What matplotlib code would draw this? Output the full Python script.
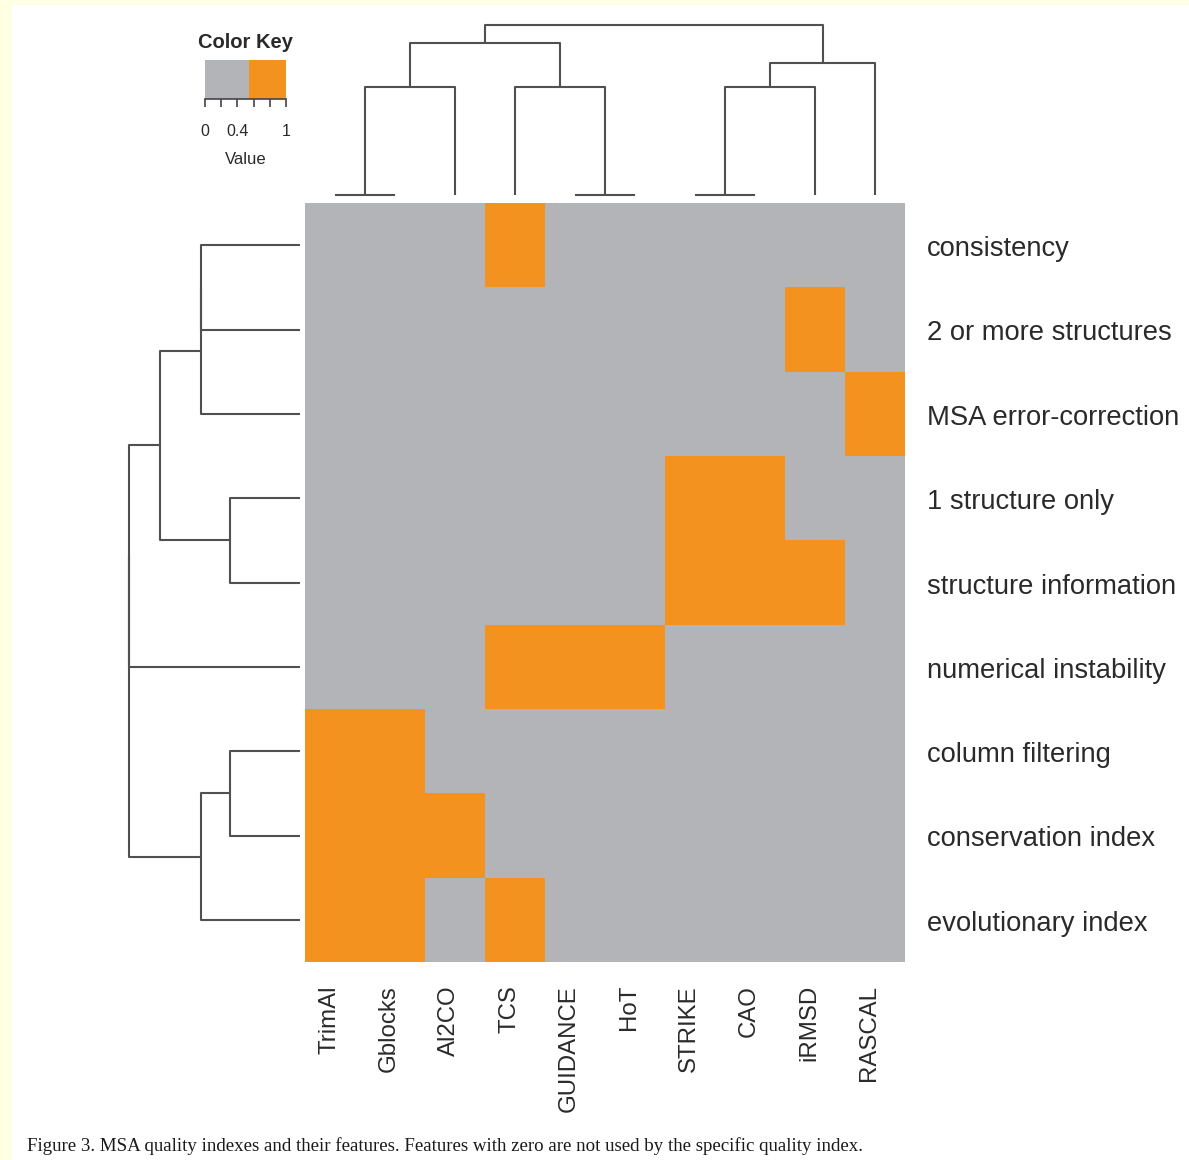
import numpy as np
import matplotlib
matplotlib.use("Agg")
import matplotlib.pyplot as plt
from matplotlib.colors import ListedColormap, BoundaryNorm
from matplotlib.patches import Rectangle
import matplotlib.transforms as mtransforms

# ---------------- data ----------------
quality_indexes = ["TrimAl", "Gblocks", "Al2CO", "TCS", "GUIDANCE", "HoT",
                   "STRIKE", "CAO", "iRMSD", "RASCAL"]
features = ["consistency", "2 or more structures", "MSA error-correction",
            "1 structure only", "structure information", "numerical instability",
            "column filtering", "conservation index", "evolutionary index"]

consistency           = [0, 0, 0, 1, 0, 0, 0, 0, 0, 0]
two_or_more_structures = [0, 0, 0, 0, 0, 0, 0, 0, 1, 0]
msa_error_correction  = [0, 0, 0, 0, 0, 0, 0, 0, 0, 1]
one_structure_only    = [0, 0, 0, 0, 0, 0, 1, 1, 0, 0]
structure_information = [0, 0, 0, 0, 0, 0, 1, 1, 1, 0]
numerical_instability = [0, 0, 0, 1, 1, 1, 0, 0, 0, 0]
column_filtering      = [1, 1, 0, 0, 0, 0, 0, 0, 0, 0]
conservation_index    = [1, 1, 1, 0, 0, 0, 0, 0, 0, 0]
evolutionary_index    = [1, 1, 0, 1, 0, 0, 0, 0, 0, 0]

key_ticks = [0, 0.2, 0.4, 0.6, 0.8, 1.0]
key_tick_labels = ["0", "", "0.4", "", "", "1"]
key_split = 0.54

caption = ("Figure 3. MSA quality indexes and their features. Features with zero "
           "are not used by the specific quality index.")

GRAY = "#B3B4B8"
ORANGE = "#F4921F"
LINE = "#505050"
TXT = "#2a2a2a"

M = np.array([consistency, two_or_more_structures, msa_error_correction,
              one_structure_only, structure_information, numerical_instability,
              column_filtering, conservation_index, evolutionary_index], dtype=float)


# ---------------- complete-linkage clustering ----------------
def complete_linkage(X):
    n = len(X)
    d2 = ((X[:, None, :] - X[None, :, :]) ** 2).sum(-1)
    members = {i: [i] for i in range(n)}
    nodes = {i: (i + 0.5, 0.0) for i in range(n)}
    active = list(range(n))
    merges = []
    nid = n
    while len(active) > 1:
        active.sort(key=lambda c: min(members[c]))
        best = None
        for i in range(len(active)):
            for j in range(i + 1, len(active)):
                a, b = active[i], active[j]
                d = max(d2[p, q] for p in members[a] for q in members[b])
                if best is None or d < best[0]:
                    best = (d, a, b)
        d, a, b = best
        h = np.sqrt(d)
        merges.append((a, b, h))
        members[nid] = members[a] + members[b]
        nodes[nid] = ((nodes[a][0] + nodes[b][0]) / 2.0, h)
        active.remove(a)
        active.remove(b)
        active.append(nid)
        nid += 1
    return merges, nodes


row_merges, row_nodes = complete_linkage(M)
col_merges, col_nodes = complete_linkage(M.T)

# ---------------- figure ----------------
W, H = 1189, 1160
fig = plt.figure(figsize=(W / 100, H / 100), dpi=100)
fig.patch.set_facecolor("white")
YEL = "#FFFFE3"
fig.patches.append(Rectangle((0, 0), 12 / W, 1, transform=fig.transFigure,
                             facecolor=YEL, edgecolor="none", zorder=-5))
fig.patches.append(Rectangle((0, 1 - 5 / H), 1, 5 / H, transform=fig.transFigure,
                             facecolor=YEL, edgecolor="none", zorder=-5))


def px_axes(x0, y0, x1, y1):
    return fig.add_axes([x0 / W, 1 - y1 / H, (x1 - x0) / W, (y1 - y0) / H])


nr, nc = M.shape
cmap = ListedColormap([GRAY, ORANGE])
norm = BoundaryNorm([0, 0.5, 1], 2)

# heatmap
ax = px_axes(305, 203, 905, 962)
ax.pcolormesh(np.arange(nc + 1), np.arange(nr + 1), M, cmap=cmap, norm=norm)
ax.set_xlim(0, nc)
ax.set_ylim(nr, 0)
ax.set_axis_off()

# column labels
tr_col = mtransforms.blended_transform_factory(ax.transData, fig.transFigure)
for i, lab in enumerate(quality_indexes):
    ax.text(i + 0.5, 1 - 985 / H, lab, rotation=90, rotation_mode="anchor",
            ha="right", va="baseline", fontsize=17.3,
            family="Liberation Sans", color=TXT, transform=tr_col)

# row labels
tr_row = mtransforms.blended_transform_factory(fig.transFigure, ax.transData)
tr_row = mtransforms.offset_copy(tr_row, fig=fig, x=0, y=-4, units="dots")
for j, lab in enumerate(features):
    ax.text(927 / W, j + 0.5, lab, ha="left", va="center", fontsize=19.7,
            family="Liberation Sans", color=TXT, transform=tr_row)

# top dendrogram
hmax_c = max(h for _, _, h in col_merges)
axc = px_axes(305, 5, 905, 203)
for a, b, h in col_merges:
    xa, ha_ = col_nodes[a]
    xb, hb = col_nodes[b]
    axc.plot([xa, xa, xb, xb], [ha_, h, h, hb], color=LINE, lw=1.5,
             solid_capstyle="butt")
axc.set_xlim(0, nc)
axc.set_ylim(-8 / 170 * hmax_c, 190 / 170 * hmax_c)
axc.set_axis_off()

# left dendrogram
hmax_r = max(h for _, _, h in row_merges)
axr = px_axes(100, 203, 305, 962)
for a, b, h in row_merges:
    ya, ha_ = row_nodes[a]
    yb, hb = row_nodes[b]
    axr.plot([ha_, h, h, hb], [ya, ya, yb, yb], color=LINE, lw=1.5,
             solid_capstyle="butt")
axr.set_ylim(nr, 0)
axr.set_xlim(200 / 171 * hmax_r, -5 / 171 * hmax_r)
axr.set_axis_off()

# color key
axk = px_axes(205, 60, 286, 99)
kx = np.linspace(0, 1, 301)
axk.pcolormesh(kx, [0, 1], ((kx[:-1] + kx[1:]) / 2 >= key_split).astype(float)[None, :],
               cmap=cmap, norm=norm)
axk.set_xlim(0, 1)
axk.set_ylim(0, 1)
axk.set_yticks([])
axk.set_xticks(key_ticks)
axk.set_xticklabels(key_tick_labels, fontsize=11.5, family="Liberation Sans",
                    color=TXT)
axk.tick_params(axis="x", direction="out", length=6, width=1.2, color="#444444",
                pad=12)
for s in ["top", "left", "right"]:
    axk.spines[s].set_visible(False)
axk.spines["bottom"].set_color("#444444")
axk.spines["bottom"].set_linewidth(1.2)
axk.set_xlabel("Value", fontsize=12, family="Liberation Sans", color=TXT,
               labelpad=9)
axk.set_title("Color Key", fontsize=14.5, fontweight="bold",
              family="Liberation Sans", color=TXT, pad=9)

# caption
fig.text(27 / W, 1 - 1146 / H, caption, fontsize=13.6, family="Liberation Serif",
         color="#1a1a1a", ha="left", va="center")

fig.savefig("out.png", dpi=100, facecolor=fig.get_facecolor())
